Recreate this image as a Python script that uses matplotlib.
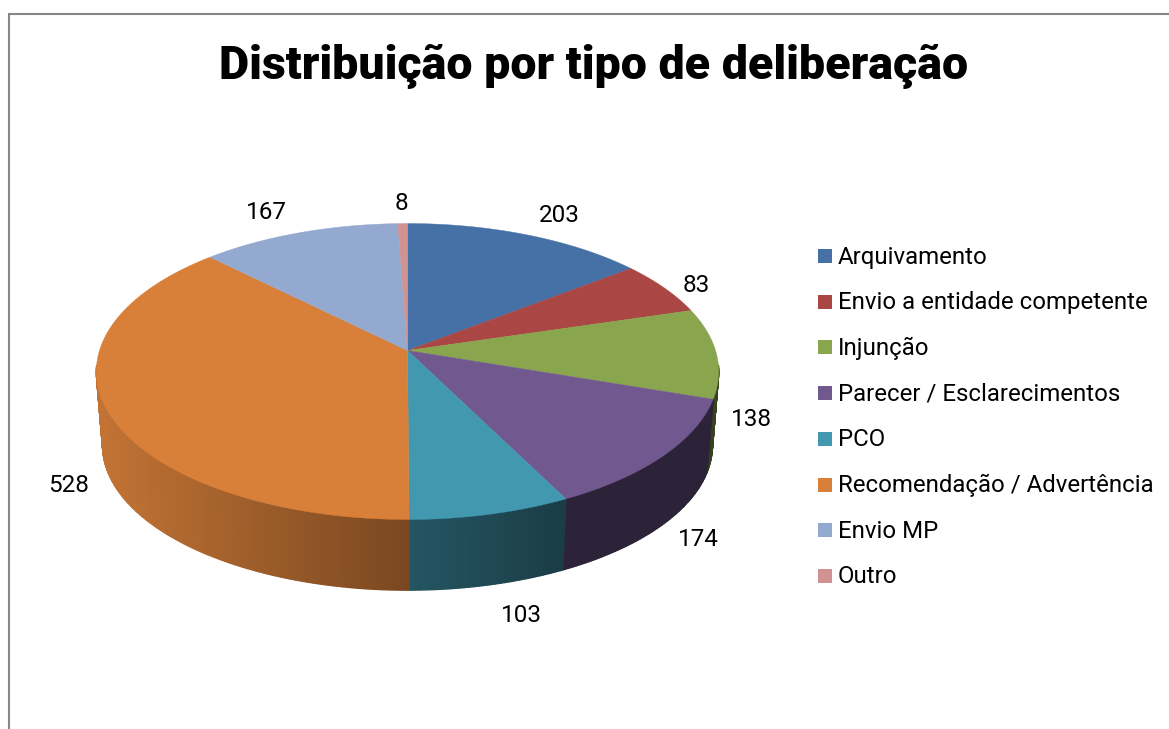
import numpy as np
import matplotlib
matplotlib.use('Agg')
import matplotlib.pyplot as plt
from matplotlib.patches import Polygon, Rectangle
from matplotlib.colors import to_rgb

title = 'Distribuição por tipo de deliberação'
categories = ['Arquivamento', 'Envio a entidade competente', 'Injunção', 'Parecer / Esclarecimentos',
              'PCO', 'Recomendação / Advertência', 'Envio MP', 'Outro']
values = [203, 83, 138, 174, 103, 528, 167, 8]
colors = ['#4671A6', '#AA4643', '#89A54E', '#71588F', '#4198AF', '#D8803A', '#93A9CF', '#D19392']

# where the value labels sit, in pixels
label_pos = [(559, 215), (696, 285), (751, 419), (698, 539), (521, 615), (69, 485), (266, 212), (401, 203)]

# pie geometry in pixels, the k term gives the perspective of the tilted disc
cx, cy = 407.5, 350.5
a, b, k = 308, 145, 0.142
depth = 74
shrink = 0.98


def project(t):
    # t is clockwise from the top, in radians
    x, y = np.sin(t), -np.cos(t)
    d = 1 - k * y
    return a * x / d, b * y / d


def wall_shade(x):
    return np.interp(x, [97, 409, 565, 720], [0.9, 0.56, 0.4, 0.4])


fig = plt.figure(figsize=(11.69, 7.29), dpi=100)
ax = fig.add_axes([0, 0, 1, 1])
ax.set_xlim(0, 1169)
ax.set_ylim(729, 0)
ax.axis('off')

# chart frame, only top and left edges show
ax.plot([8.5, 8.5, 1169], [729, 13.5, 13.5], color='#868686', lw=1.5, solid_joinstyle='miter')

edges = np.cumsum([0] + values) / sum(values) * 2 * np.pi

# side wall, drawn strip by strip so the shade can change along the rim
for i in range(len(values)):
    ts = np.linspace(edges[i], edges[i + 1], max(3, int(values[i] / 2)))
    base = np.array(to_rgb(colors[i]))
    for t0, t1 in zip(ts[:-1], ts[1:]):
        u0, v0 = project(t0)
        u1, v1 = project(t1)
        # the back of the rim is hidden, skip it so nothing peeks out above the top
        if max(v0, v1) < 15:
            continue
        quad = [(cx + u0, cy + v0), (cx + u1, cy + v1),
                (cx + u1 * shrink, cy + v1 * shrink + depth), (cx + u0 * shrink, cy + v0 * shrink + depth)]
        c = base * wall_shade(cx + (u0 + u1) / 2)
        ax.add_patch(Polygon(quad, closed=True, fc=c, ec=c, lw=1.0, zorder=2))

# top of the pie
for i in range(len(values)):
    ts = np.linspace(edges[i], edges[i + 1], 120)
    u, v = project(ts)
    pts = [(cx, cy)] + list(zip(cx + u, cy + v))
    ax.add_patch(Polygon(pts, closed=True, fc=colors[i], ec=colors[i], lw=0.3, zorder=3))

for v, (x, y) in zip(values, label_pos):
    ax.text(x, y, str(v), ha='center', va='center', fontsize=17.5, family='Roboto', color='black')

# legend
for i, name in enumerate(categories):
    y = 256 + i * 45.7
    ax.add_patch(Rectangle((818, y - 7), 14, 14, fc=colors[i], ec='none'))
    ax.text(838, y + 1, name, ha='left', va='center', fontsize=17.3, family='Roboto', color='black')

ax.text(594, 66, title, ha='center', va='center', fontsize=33.5, family='Roboto', fontweight='black', color='black')

fig.savefig('out.png', dpi=100)
